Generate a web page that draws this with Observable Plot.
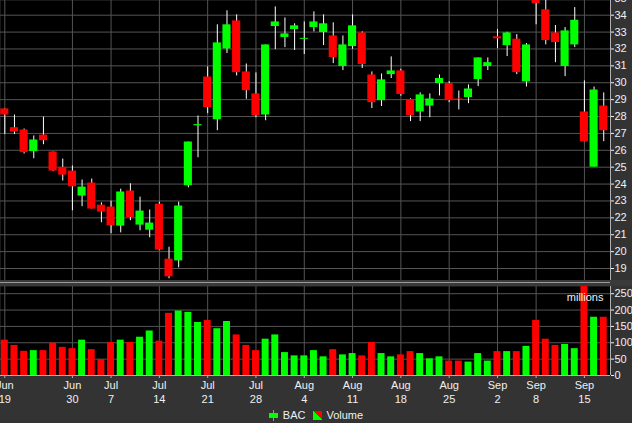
<!DOCTYPE html>
<html>
<head>
<meta charset="utf-8">
<script src="https://cdn.jsdelivr.net/npm/d3@7"></script>
<script src="https://cdn.jsdelivr.net/npm/@observablehq/plot@0.6"></script>
<style>
  html, body { margin: 0; padding: 0; background: #333; }
  #wrap { width: 632px; height: 423px; overflow: hidden; background: #333; font-family: "Liberation Sans", Arial, sans-serif; }
  .panel { width: 632px; overflow: hidden; }
  .panel svg { display: block; }
  #sep { height: 6px; background: #3a3a3a; position: relative; }
  #sep::after { content: ""; position: absolute; left: 0; right: 22px; top: 2px; height: 1px; background: #9a9a9a; }
  #legend { height: 16px; display: flex; justify-content: center; align-items: center; color: #f0f0f0; font-size: 11px; }
  #legend .t1 { margin-left: 5px; margin-right: 8px; }
  #legend .t2 { margin-left: 4px; }
  #legend .vol { width: 9px; height: 9px; background: linear-gradient(to top right, #00ff00 50%, #ff0000 50%); }
</style>
</head>
<body>
<div id="wrap">
  <div class="panel" id="price"></div>
  <div id="sep"></div>
  <div class="panel" id="volume"></div>
  <div id="legend">
    <svg width="9" height="11"><line x1="4.5" y1="0" x2="4.5" y2="11" stroke="#00ff00"></line><rect x="0" y="3" width="9" height="5" fill="#00ff00"></rect></svg>
    <span class="t1">BAC</span>
    <span class="vol"></span>
    <span class="t2">Volume</span>
  </div>
</div>
<script>
// ---- data ----
const dates = [
  "Jun 19","Jun 20","Jun 23","Jun 24","Jun 25","Jun 26","Jun 27","Jun 30",
  "Jul 1","Jul 2","Jul 3","Jul 7","Jul 8","Jul 9","Jul 10","Jul 11","Jul 14","Jul 15","Jul 16","Jul 17","Jul 18",
  "Jul 21","Jul 22","Jul 23","Jul 24","Jul 25","Jul 28","Jul 29","Jul 30","Jul 31",
  "Aug 1","Aug 4","Aug 5","Aug 6","Aug 7","Aug 8","Aug 11","Aug 12","Aug 13","Aug 14","Aug 15",
  "Aug 18","Aug 19","Aug 20","Aug 21","Aug 22","Aug 25","Aug 26","Aug 27","Aug 28","Aug 29",
  "Sep 2","Sep 3","Sep 4","Sep 5","Sep 8","Sep 9","Sep 10","Sep 11","Sep 12","Sep 15","Sep 16","Sep 17"
];
const opens = [
  28.45,27.34,27.20,25.92,26.90,25.90,24.99,24.77,
  23.29,24.06,22.75,22.64,21.51,23.59,21.57,21.27,22.81,19.55,19.45,23.90,27.45,
  30.34,27.81,32.00,33.66,30.64,29.34,28.09,33.33,32.68,
  33.15,32.57,33.27,32.97,32.77,30.96,32.14,32.95,30.46,28.94,30.48,
  30.70,29.00,28.27,28.62,29.95,29.95,29.04,29.12,30.19,30.96,
  32.72,32.20,32.58,30.05,35.60,34.32,32.95,30.96,32.24,28.27,25.00,28.62
];
const highs = [
  28.45,28.09,27.26,26.85,27.97,25.90,25.48,25.07,
  24.24,24.30,22.89,22.99,23.70,24.02,23.23,22.46,22.93,20.26,22.93,26.49,28.03,
  30.94,33.43,34.26,34.02,31.11,30.58,32.24,34.49,33.84,
  33.49,33.60,34.20,34.02,33.55,32.77,34.02,33.01,30.64,30.52,31.53,
  30.80,29.05,29.40,29.34,30.46,30.07,29.51,29.87,31.47,31.47,
  33.15,32.99,32.85,32.32,36.20,35.10,33.39,33.27,34.45,30.11,29.75,29.40
];
const lows = [
  26.93,26.93,25.78,25.50,26.33,24.73,24.18,22.42,
  22.66,22.52,21.71,21.06,21.11,21.83,21.23,20.82,20.05,18.39,19.04,23.78,25.56,
  28.17,27.16,31.73,30.40,29.02,27.93,27.75,31.96,32.08,
  31.91,31.67,33.01,32.20,31.13,30.72,31.98,30.84,28.47,28.59,30.25,
  29.20,27.70,27.70,27.93,29.22,28.82,28.39,28.76,29.77,30.72,
  32.02,31.55,30.48,29.75,33.43,32.24,31.19,30.36,32.08,26.51,25.00,26.51
];
const closes = [
  28.09,27.08,25.86,26.61,26.57,24.77,24.53,23.84,
  23.82,22.52,22.34,21.53,23.53,22.02,22.40,21.69,20.09,18.51,22.70,26.49,27.52,
  28.53,32.36,33.43,30.60,29.53,28.05,32.24,33.60,32.89,
  33.37,32.63,33.60,33.49,31.49,32.24,33.37,31.08,28.82,30.17,30.70,
  29.30,28.05,29.28,29.04,30.25,28.94,29.00,29.63,31.47,31.19,
  32.60,32.95,30.60,32.24,34.69,32.50,32.38,33.07,33.70,26.51,29.57,27.16
];
const volumes = [
  108,92,74,76,76,99,86,82,
  108,79,49,101,108,101,117,136,105,190,197,193,162,
  168,143,165,124,92,76,111,124,70,
  60,60,76,57,79,63,67,60,101,67,57,
  63,73,67,51,57,44,44,41,67,44,
  73,73,73,89,168,111,92,95,82,285,178,178
];
const tickDates = ["Jun 19","Jun 30","Jul 7","Jul 14","Jul 21","Jul 28","Aug 4","Aug 11","Aug 18","Aug 25","Sep 2","Sep 8","Sep 15"];
const tickMonths = ["Jun","Jun","Jul","Jul","Jul","Jul","Aug","Aug","Aug","Aug","Sep","Sep","Sep"];
const tickDays = ["19","30","7","14","21","28","4","11","18","25","2","8","15"];
const priceTicks = [19,20,21,22,23,24,25,26,27,28,29,30,31,32,33,34,35];
const volumeTicks = [0,50,100,150,200,250];

// ---- build ----
const UP = "#00ff00", DOWN = "#ff0000", GRID = "#555555", AXIS = "#b0b0b0", TEXT = "#f0f0f0";
const rows = dates.map((d, i) => ({i, d, o: opens[i], h: highs[i], l: lows[i], c: closes[i], v: volumes[i], up: closes[i] >= opens[i]}));
const tickIdx = tickDates.map(d => dates.indexOf(d));
const xDomain = [-0.445, 62.7];
const style = {background: "#333", color: TEXT, fontFamily: "'Liberation Sans', Arial, sans-serif", fontSize: "11px", overflow: "hidden"};

const price = Plot.plot({
  width: 632, height: 280,
  marginLeft: 0, marginRight: 22, marginTop: 0, marginBottom: 0,
  style,
  x: {domain: xDomain, axis: null},
  y: {domain: [18.29, 34.87], axis: "right", ticks: priceTicks, tickSize: 3, tickPadding: 1, tickFormat: d => String(d), label: null},
  color: {type: "identity"},
  marks: [
    Plot.frame({fill: "#000"}),
    Plot.ruleY(priceTicks, {stroke: GRID}),
    Plot.ruleX(tickIdx, {stroke: GRID}),
    Plot.ruleX(rows, {x: "i", y1: "l", y2: "h", stroke: "#ffffff", clip: true}),
    Plot.rect(rows, {x1: d => d.i - 0.42, x2: d => d.i + 0.42, y1: "o", y2: "c", fill: d => d.up ? UP : DOWN, clip: true}),
    Plot.ruleX([xDomain[1]], {stroke: AXIS})
  ]
});
document.getElementById("price").appendChild(price);

const volume = Plot.plot({
  width: 632, height: 121,
  marginLeft: 0, marginRight: 22, marginTop: 0, marginBottom: 32,
  style,
  x: {domain: xDomain, axis: null},
  y: {domain: [0, 272], axis: "right", ticks: volumeTicks, tickSize: 3, tickPadding: 1, tickFormat: d => String(d), label: null},
  color: {type: "identity"},
  marks: [
    Plot.frame({fill: "#000"}),
    Plot.ruleY(volumeTicks.filter(v => v > 0), {stroke: GRID}),
    Plot.ruleX(tickIdx, {stroke: GRID}),
    Plot.rectY(rows, {x1: d => d.i - 0.36, x2: d => d.i + 0.36, y: "v", fill: d => d.up ? UP : DOWN, clip: true}),
    Plot.ruleY([0], {stroke: AXIS}),
    Plot.ruleX([xDomain[1]], {stroke: AXIS}),
    Plot.ruleX(tickIdx, {x: d => d, y1: 0, y2: 0, insetBottom: -3, stroke: AXIS}),
    Plot.text(tickIdx, {x: d => d, y: 0, dy: 10, text: (d, k) => tickMonths[k], fill: TEXT}),
    Plot.text(tickIdx, {x: d => d, y: 0, dy: 24, text: (d, k) => tickDays[k], fill: TEXT}),
    Plot.text(["millions"], {frameAnchor: "top-right", dx: -7, dy: 7, textAnchor: "end", text: d => d, fill: TEXT})
  ]
});
document.getElementById("volume").appendChild(volume);
</script>
</body>
</html>
